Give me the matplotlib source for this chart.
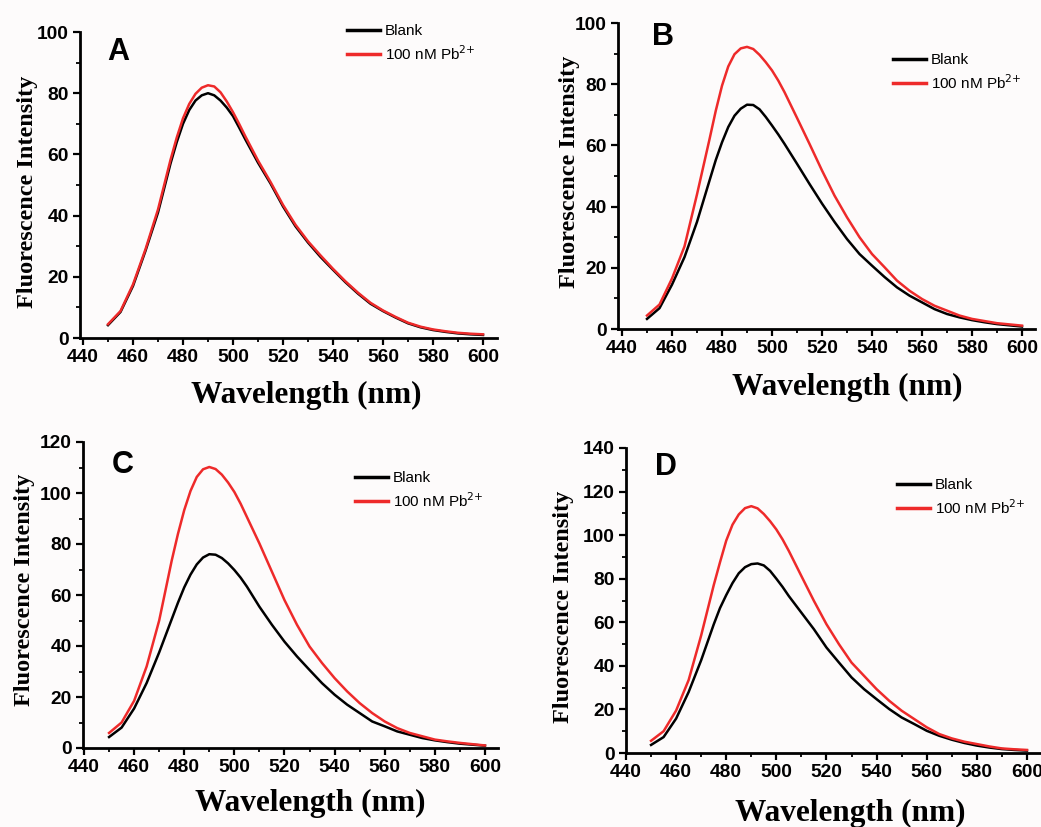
import matplotlib
matplotlib.use("Agg")
import matplotlib.pyplot as plt
from matplotlib.ticker import MultipleLocator

wavelength = [450, 455, 460, 465, 470, 475, 477.5, 480, 482.5, 485, 487.5, 490, 492.5, 495, 497.5,
              500, 502.5, 505, 510, 515, 520, 525, 530, 535, 540, 545, 550, 555, 560, 565, 570,
              575, 580, 585, 590, 595, 600]

blank_A = [4.2, 8.5, 17, 28.5, 41, 57, 64, 70, 74.5, 77.6, 79.3, 80, 79.3, 77.6, 75.3,
           72.5, 68.7, 64.8, 57.3, 50.5, 43, 36.5, 31.2, 26.5, 22.3, 18.2, 14.5, 11.2, 8.8, 6.7, 4.8,
           3.5, 2.6, 2.0, 1.5, 1.2, 1.0]
pb_A = [4.5, 8.8, 17.5, 29, 42, 58.2, 65.5, 71.8, 76.5, 79.8, 81.8, 82.6, 82.2, 80.3, 77.3,
        73.8, 69.9, 65.8, 58, 51, 43.5, 37, 31.6, 27, 22.6, 18.5, 14.8, 11.5, 9.0, 6.9, 5.0,
        3.7, 2.8, 2.2, 1.7, 1.4, 1.2]

blank_B = [3.3, 6.8, 14.5, 23.5, 35, 48.5, 55.2, 61, 66, 69.7, 72, 73.3, 73.2, 71.8, 69.3,
           66.5, 63.6, 60.5, 54, 47.4, 41, 35, 29.4, 24.5, 20.7, 17, 13.6, 10.9, 8.7, 6.5, 4.9,
           3.8, 2.9, 2.2, 1.6, 1.2, 0.8]
pb_B = [4.4, 8, 16.5, 27, 44, 62, 71.3, 79.5, 85.8, 89.8, 91.7, 92.2, 91.5, 89.6, 87.2,
        84.5, 81.2, 77.4, 69, 60.5, 51.8, 43.6, 36.5, 30, 24.5, 20.2, 15.8, 12.5, 9.8, 7.6, 6,
        4.4, 3.3, 2.6, 1.9, 1.5, 1.1]

blank_C = [4.3, 8, 15.5, 25.5, 37.5, 50.5, 57, 63, 68, 72, 74.7, 76, 75.8, 74.5, 72.4,
           69.8, 66.8, 63.3, 55.4, 48.3, 41.7, 35.9, 30.6, 25.4, 20.9, 17, 13.7, 10.4, 8.5, 6.5, 5.2,
           3.9, 3, 2.3, 1.7, 1.3, 0.9]
pb_C = [5.9, 10, 18.5, 32, 50, 73.5, 84, 93.3, 100.8, 106.3, 109.3, 110.2, 109.4, 107.2, 104.1,
        100.4, 95.8, 90.6, 80.2, 69.1, 58, 48.3, 39.8, 33.3, 27.4, 22.2, 17.6, 13.7, 10.4, 7.8, 5.9,
        4.6, 3.3, 2.6, 2, 1.5, 1]

blank_D = [3.7, 7.3, 15.8, 28, 42.6, 59, 66.5, 72.5, 78, 82.5, 85.3, 86.7, 87.0, 86.1, 83.6,
           80, 76.2, 72, 64.4, 56.8, 48.4, 41.5, 34.7, 29.3, 24.7, 20.2, 16.3, 13.3, 10.2, 7.9, 6.1,
           4.6, 3.4, 2.5, 1.8, 1.4, 1.1]
pb_D = [5.6, 10, 19.5, 33.5, 54, 77, 87.5, 97.5, 104.8, 109.5, 112.4, 113.3, 112.3, 109.7, 106.4,
        102.6, 98, 92.7, 81.2, 69.8, 59.1, 49.9, 41.5, 35.4, 29.3, 24, 19.4, 15.6, 11.8, 8.7, 6.7,
        5.2, 4.1, 3, 2.1, 1.7, 1.4]

panel_letters = ["A", "B", "C", "D"]
series_labels = ["Blank", "100 n$\\mathregular{M}$ Pb$^{2{+}}$"]
x_ticks = [440, 460, 480, 500, 520, 540, 560, 580, 600]
y_max = [100, 100, 120, 140]

W, H = 1041, 827
fig = plt.figure(figsize=(W / 100, H / 100), dpi=100, facecolor="#fdfbfb")

def fx(px):
    return px / W

def fy(py):
    return 1 - py / H

# axes boxes in pixels: left, right, bottom, top
boxes = [(80, 497, 338, 32), (618, 1035, 329, 23), (83, 498, 748, 442), (626, 1047, 753, 448)]
xlims = [(438.8, 605.6), (438.4, 605.2), (439.6, 605.2), (440, 608)]
ylabel_pos = [(28, 192), (570, 172), (25, 590), (563, 607)]
xlabel_pos = [(306, 395), (847, 387), (310, 803), (850, 813)]
letter_pos = [(118, 52), (663, 37), (123, 465), (666, 467)]
legend_pos = [(347, 24), (893, 53), (355, 471), (897, 478)]

blanks = [blank_A, blank_B, blank_C, blank_D]
pbs = [pb_A, pb_B, pb_C, pb_D]

for i in range(4):
    l, r, b, t = boxes[i]
    ax = fig.add_axes([fx(l), fy(b), fx(r - l), (b - t) / H])
    ax.set_facecolor("none")
    ax.plot(wavelength, blanks[i], color="black", lw=1.8, label=series_labels[0])
    ax.plot(wavelength, pbs[i], color="#ee2a2a", lw=1.8, label=series_labels[1])
    ax.set_xlim(*xlims[i])
    ax.set_ylim(0, y_max[i])
    ax.set_xticks(x_ticks)
    ax.xaxis.set_minor_locator(MultipleLocator(10))
    ax.yaxis.set_major_locator(MultipleLocator(20))
    ax.yaxis.set_minor_locator(MultipleLocator(10))
    for s in ["top", "right"]:
        ax.spines[s].set_visible(False)
    for s in ["left", "bottom"]:
        ax.spines[s].set_linewidth(2.0)
    ax.tick_params(which="major", direction="out", length=5, width=1.6, pad=3)
    ax.tick_params(which="minor", direction="out", length=3, width=1.3)
    for lab in ax.get_xticklabels() + ax.get_yticklabels():
        lab.set_fontfamily("Liberation Sans")
        lab.set_fontweight("bold")
        lab.set_fontsize(13.8)
    ax.set_ylabel("Fluorescence Intensity", fontfamily="Liberation Serif",
                  fontweight="bold", fontsize=17.5)
    ax.yaxis.set_label_coords(fx(ylabel_pos[i][0]), fy(ylabel_pos[i][1]), transform=fig.transFigure)
    ax.set_xlabel("Wavelength (nm)", fontfamily="Liberation Serif",
                  fontweight="bold", fontsize=22.5)
    ax.xaxis.set_label_coords(fx(xlabel_pos[i][0]), fy(xlabel_pos[i][1]), transform=fig.transFigure)
    ax.xaxis.label.set_va("center")
    ax.yaxis.label.set_va("center")
    fig.text(fx(letter_pos[i][0]), fy(letter_pos[i][1]), panel_letters[i],
             fontfamily="Liberation Sans", fontweight="bold", fontsize=22,
             ha="center", va="center")
    leg = ax.legend(loc="upper left", bbox_to_anchor=(fx(legend_pos[i][0]), fy(legend_pos[i][1])),
                    bbox_transform=fig.transFigure, frameon=False,
                    prop=dict(family="Liberation Sans", size=11),
                    handlelength=2.15, handletextpad=0.33, labelspacing=0.4,
                    borderpad=0, borderaxespad=0)
    for ln in leg.get_lines():
        ln.set_linewidth(2.5)

fig.savefig("out.png", dpi=100, facecolor=fig.get_facecolor())
